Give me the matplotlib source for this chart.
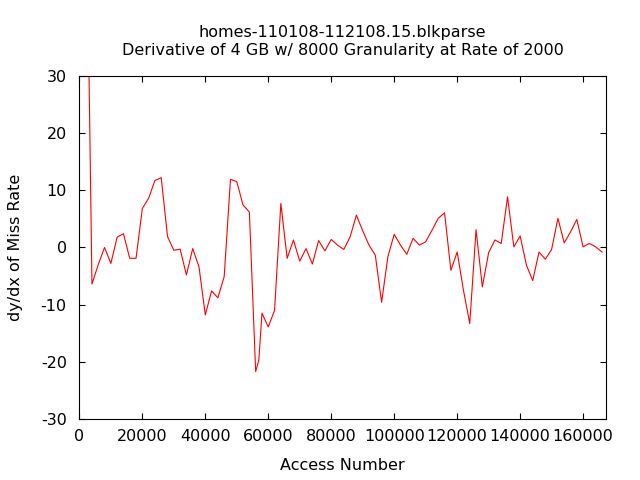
import matplotlib
matplotlib.use("Agg")
import matplotlib.pyplot as plt

plt.rcParams["axes.unicode_minus"] = False

# access number (x) and derivative of miss rate (y)
access = [2000, 4000, 6000, 8000, 10000, 12000, 14000, 16000, 18000, 20000,
          22000, 24000, 26000, 28000, 30000, 32000, 34000, 36000, 38000, 40000,
          42000, 44000, 46000, 48000, 50000, 52000, 54000, 56000, 57000, 58000,
          60000, 62000, 64000, 66000, 68000, 70000, 72000, 74000, 76000, 78000,
          80000, 82000, 84000, 86000, 88000, 90000, 92000, 94000, 96000, 98000,
          100000, 102000, 104000, 106000, 108000, 110000, 112000, 114000, 116000, 118000,
          120000, 122000, 124000, 126000, 128000, 130000, 132000, 134000, 136000, 138000,
          140000, 142000, 144000, 146000, 148000, 150000, 152000, 154000, 156000, 158000,
          160000, 162000, 164000, 166000]
deriv = [72.0, -6.4, -3.0, 0.0, -2.8, 1.8, 2.4, -1.9, -1.9, 6.8,
         8.6, 11.7, 12.2, 1.9, -0.5, -0.3, -4.8, -0.2, -3.4, -11.8,
         -7.6, -8.8, -5.1, 11.9, 11.5, 7.4, 6.2, -21.7, -19.7, -11.5,
         -13.9, -11.0, 7.7, -1.9, 1.3, -2.4, -0.2, -2.9, 1.2, -0.6,
         1.4, 0.4, -0.35, 1.85, 5.65, 2.9, 0.4, -1.35, -9.6, -1.6,
         2.3, 0.4, -1.2, 1.6, 0.4, 1.0, 3.0, 5.1, 6.05, -4.0,
         -0.8, -7.5, -13.3, 3.1, -6.9, -0.9, 1.3, 0.7, 8.85, 0.1,
         2.0, -3.1, -5.8, -0.8, -2.05, -0.35, 5.1, 0.8, 2.7, 4.9,
         0.1, 0.7, 0.1, -0.8]

xticks = [0, 20000, 40000, 60000, 80000, 100000, 120000, 140000, 160000]
yticks = [-30, -20, -10, 0, 10, 20, 30]

fs = 11.5

fig = plt.figure(figsize=(6.4, 4.8), dpi=100)
ax = fig.add_axes([0.124, 0.127, 0.823, 0.715])

ax.plot(access, deriv, color="red", linewidth=0.8)

ax.set_xlim(0, 167300)
ax.set_ylim(-30, 30)
ax.set_xticks(xticks)
ax.set_yticks(yticks)
ax.tick_params(direction="in", length=4, width=0.8, top=True, right=True,
               labelsize=fs)
ax.tick_params(axis="x", pad=7)
ax.tick_params(axis="y", pad=9)
for sp in ax.spines.values():
    sp.set_linewidth(0.8)

ax.set_xlabel("Access Number", fontsize=fs, labelpad=10)
ax.set_ylabel("dy/dx of Miss Rate", fontsize=fs, labelpad=13)
ax.set_title("homes-110108-112108.15.blkparse\n"
             "Derivative of 4 GB w/ 8000 Granularity at Rate of 2000",
             fontsize=fs, pad=15, linespacing=1.25)

fig.savefig("out.png", dpi=100)
